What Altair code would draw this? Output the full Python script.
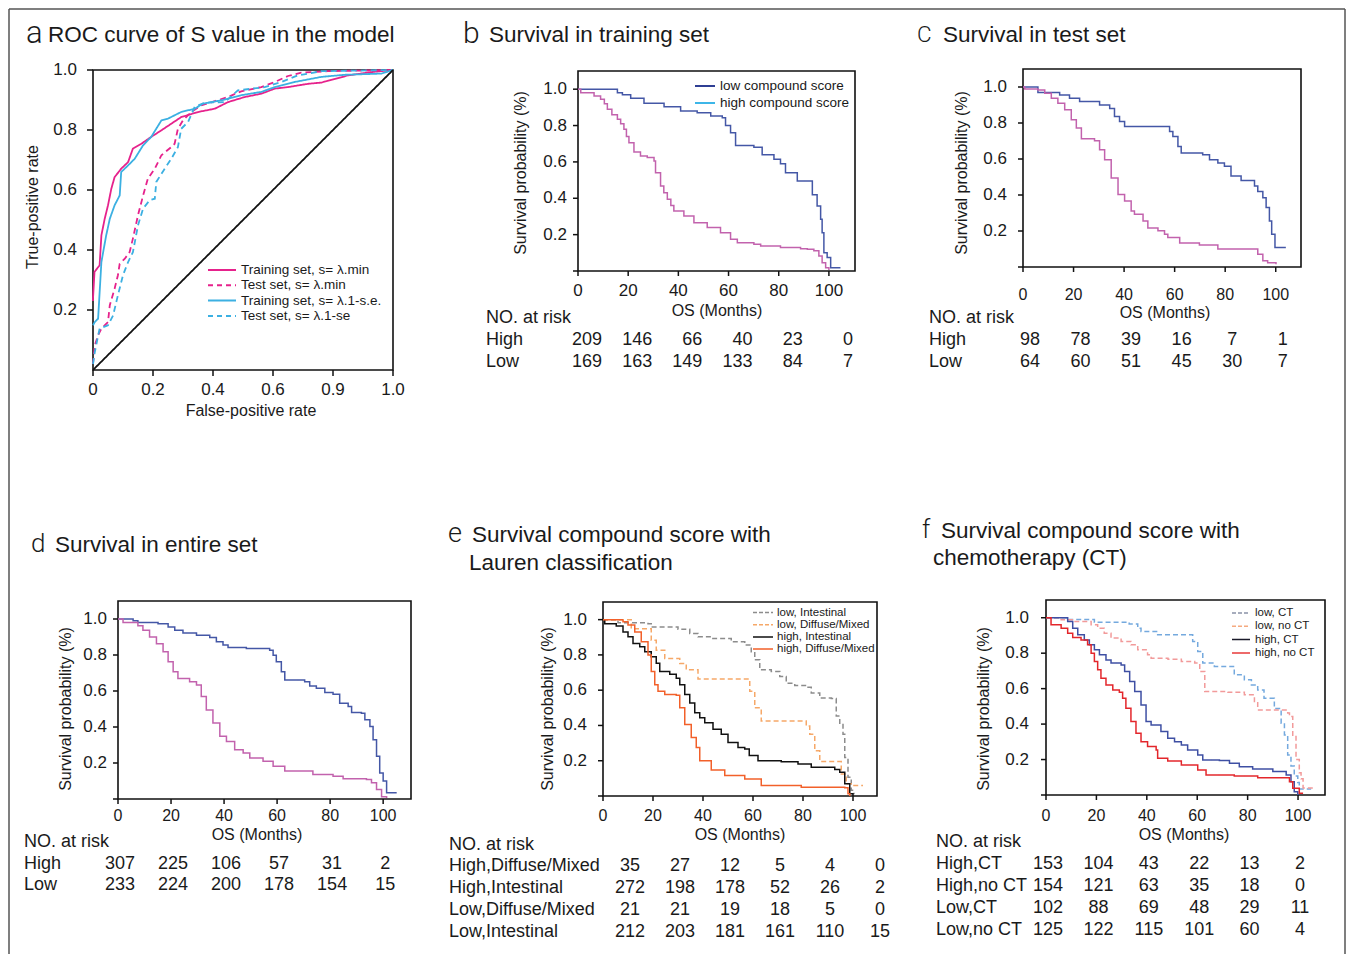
import altair as alt
import pandas as pd

FONT = "Liberation Sans"
LETTER_FONT = "Roboto"
CANVAS_W, CANVAS_H = 1350, 954
INK = "#1a1a1a"

# ---------------------------------------------------------------- data
os_ticks = [0, 20, 40, 60, 80, 100]
os_tick_labels = ["0", "20", "40", "60", "80", "100"]
prob_ticks = [0, 0.2, 0.4, 0.6, 0.8, 1.0]
prob_tick_labels = ["", "0.2", "0.4", "0.6", "0.8", "1.0"]
rate_ticks_x = [0, 0.2, 0.4, 0.6, 0.8, 1.0]
rate_tick_labels_x = ["0", "0.2", "0.4", "0.6", "0.9", "1.0"]
rate_ticks_y = [0.2, 0.4, 0.6, 0.8, 1.0]
rate_tick_labels_y = ["0.2", "0.4", "0.6", "0.8", "1.0"]

# Panel a: ROC curves
roc_labels = ["Training set, s= λ.min", "Test set, s= λ.min",
              "Training set, s= λ.1-s.e.", "Test set, s= λ.1-se"]
roc_train_min_fpr = [0, 0, 0.005, 0.022, 0.028, 0.039, 0.05, 0.061, 0.072, 0.094, 0.117, 0.133,
                     0.161, 0.194, 0.228, 0.261, 0.294, 0.35, 0.406, 0.45, 0.506, 0.561, 0.606,
                     0.65, 0.717, 0.761, 0.85, 0.928, 1.0]
roc_train_min_tpr = [0.23, 0.238, 0.327, 0.349, 0.449, 0.504, 0.549, 0.604, 0.643, 0.671, 0.693,
                     0.738, 0.754, 0.777, 0.799, 0.821, 0.843, 0.86, 0.871, 0.893, 0.91, 0.921,
                     0.938, 0.943, 0.954, 0.958, 0.982, 0.993, 1.0]
roc_test_min_fpr = [0, 0.006, 0.017, 0.028, 0.05, 0.056, 0.072, 0.083, 0.089, 0.106, 0.122, 0.133,
                    0.15, 0.167, 0.183, 0.206, 0.228, 0.261, 0.272, 0.283, 0.3, 0.328, 0.361, 0.406,
                    0.45, 0.494, 0.561, 0.606, 0.65, 0.694, 0.783, 1.0]
roc_test_min_tpr = [0.02, 0.082, 0.116, 0.138, 0.16, 0.216, 0.271, 0.316, 0.354, 0.371, 0.393,
                    0.438, 0.516, 0.582, 0.638, 0.671, 0.716, 0.743, 0.754, 0.804, 0.832, 0.86,
                    0.882, 0.896, 0.91, 0.929, 0.943, 0.96, 0.98, 0.991, 0.996, 1.0]
roc_train_1se_fpr = [0, 0.006, 0.017, 0.028, 0.044, 0.056, 0.072, 0.089, 0.094, 0.117, 0.139,
                     0.167, 0.194, 0.228, 0.25, 0.294, 0.339, 0.367, 0.428, 0.494, 0.561, 0.606,
                     0.672, 0.761, 0.839, 0.961, 1.0]
roc_train_1se_tpr = [0.149, 0.16, 0.171, 0.36, 0.449, 0.504, 0.549, 0.582, 0.66, 0.682, 0.704,
                     0.749, 0.777, 0.832, 0.838, 0.86, 0.871, 0.888, 0.899, 0.916, 0.927, 0.943,
                     0.96, 0.977, 0.984, 0.988, 1.0]
roc_test_1se_fpr = [0, 0.006, 0.022, 0.05, 0.067, 0.083, 0.1, 0.117, 0.133, 0.15, 0.167, 0.189,
                    0.206, 0.211, 0.239, 0.261, 0.283, 0.294, 0.317, 0.339, 0.372, 0.439, 0.483,
                    0.572, 0.628, 0.683, 0.761, 1.0]
roc_test_1se_tpr = [0.02, 0.06, 0.138, 0.149, 0.182, 0.249, 0.316, 0.36, 0.393, 0.482, 0.538,
                    0.566, 0.571, 0.627, 0.671, 0.704, 0.743, 0.804, 0.827, 0.877, 0.891, 0.893,
                    0.932, 0.943, 0.96, 0.982, 0.996, 1.0]
roc_diag_x = [0, 1]
roc_diag_y = [0, 1]

# Panel b: training set
b_low_t = [0, 15.7, 17.7, 21.0, 26.3, 34.3, 40.9, 47.5, 52.9, 57.5, 58.8, 60.8, 62.8, 70.1, 73.4,
           78.1, 80.7, 82.7, 87.4, 93.4, 95.3, 96.7, 97.3, 98.0, 99.3, 100.7, 104.6]
b_low_s = [1.0, 0.98, 0.97, 0.95, 0.922, 0.904, 0.88, 0.87, 0.853, 0.843, 0.80, 0.76, 0.69, 0.68,
           0.64, 0.614, 0.59, 0.54, 0.495, 0.42, 0.357, 0.284, 0.21, 0.10, 0.074, 0.018, 0.018]
b_high_t = [0, 1.1, 6.4, 9.0, 10.5, 11.7, 13.5, 15.7, 17.0, 18.3, 19.3, 20.3, 22.3, 24.9, 27.6,
            30.3, 30.9, 32.9, 34.2, 35.6, 37.0, 38.2, 42.2, 46.2, 51.5, 56.8, 60.8, 63.5, 70.1,
            72.8, 80.7, 88.7, 91.4, 94.0, 96.0, 97.3, 98.7, 100.0]
b_high_s = [1.0, 0.98, 0.962, 0.944, 0.92, 0.89, 0.86, 0.834, 0.81, 0.779, 0.74, 0.706, 0.655,
            0.633, 0.624, 0.605, 0.541, 0.468, 0.43, 0.394, 0.36, 0.33, 0.303, 0.266, 0.239,
            0.211, 0.174, 0.156, 0.147, 0.138, 0.129, 0.123, 0.12, 0.111, 0.083, 0.046, 0.018,
            0.005]
b_risk_rows = ["High", "Low"]
b_risk_high = [209, 146, 66, 40, 23, 0]
b_risk_low = [169, 163, 149, 133, 84, 7]

# Panel c: test set
c_low_t = [0, 5.9, 14.5, 18.4, 22.4, 30.3, 34.3, 36.2, 38.2, 40.2, 58.0, 59.3, 61.3, 62.6, 71.1,
           73.8, 77.1, 79.7, 82.3, 86.3, 91.6, 92.9, 94.9, 96.2, 97.5, 98.4, 99.7, 104.0]
c_low_s = [1.0, 0.97, 0.956, 0.937, 0.92, 0.9, 0.88, 0.836, 0.808, 0.78, 0.753, 0.725, 0.67,
           0.633, 0.624, 0.596, 0.578, 0.56, 0.505, 0.48, 0.45, 0.42, 0.385, 0.33, 0.256, 0.182,
           0.109, 0.109]
c_high_t = [0, 0.7, 5.9, 8.6, 11.2, 13.8, 16.5, 19.1, 21.1, 23.1, 28.3, 30.3, 32.3, 34.9, 37.6,
            40.2, 42.8, 44.1, 47.5, 49.4, 53.4, 56.0, 57.3, 62.0, 69.8, 77.1, 92.9, 94.9, 96.8,
            100.1]
c_high_s = [1.0, 0.989, 0.983, 0.965, 0.937, 0.91, 0.873, 0.818, 0.772, 0.713, 0.702, 0.652,
            0.596, 0.495, 0.403, 0.366, 0.311, 0.293, 0.256, 0.216, 0.201, 0.182, 0.164, 0.133,
            0.122, 0.1, 0.071, 0.035, 0.024, 0.015]
c_risk_rows = ["High", "Low"]
c_risk_high = [98, 78, 39, 16, 7, 1]
c_risk_low = [64, 60, 51, 45, 30, 7]

# Panel d: entire set
d_low_t = [0, 5.7, 7.5, 15.1, 18.9, 21.4, 24.5, 29.6, 34.6, 37.1, 39.6, 41.5, 48.4, 57.2, 58.5,
           59.7, 61.6, 62.9, 70.4, 72.3, 74.8, 78.0, 81.1, 83.6, 86.8, 88.1, 91.8, 93.1, 95.0,
           96.2, 97.5, 98.7, 100.0, 101.3, 105.1]
d_low_s = [1.0, 0.99, 0.981, 0.974, 0.956, 0.937, 0.922, 0.91, 0.897, 0.873, 0.855, 0.841, 0.836,
           0.827, 0.799, 0.762, 0.707, 0.661, 0.652, 0.628, 0.615, 0.591, 0.582, 0.532, 0.514,
           0.48, 0.477, 0.44, 0.403, 0.329, 0.237, 0.145, 0.1, 0.035, 0.035]
d_high_t = [0, 1.9, 7.5, 9.4, 11.9, 14.5, 17.0, 18.9, 20.8, 22.6, 27.0, 29.6, 31.4, 33.3, 35.8,
            38.4, 40.9, 44.0, 47.2, 49.7, 54.7, 58.5, 62.9, 73.5, 81.1, 84.9, 93.7, 95.6, 97.5,
            99.4, 101.3]
d_high_s = [1.0, 0.981, 0.963, 0.937, 0.9, 0.863, 0.818, 0.762, 0.707, 0.67, 0.652, 0.633, 0.569,
            0.495, 0.422, 0.348, 0.32, 0.274, 0.256, 0.228, 0.21, 0.182, 0.155, 0.136, 0.127,
            0.112, 0.109, 0.09, 0.053, 0.012, 0.006]
d_risk_rows = ["High", "Low"]
d_risk_high = [307, 225, 106, 57, 31, 2]
d_risk_low = [233, 224, 200, 178, 154, 15]

# Panel e: Lauren classification
e_labels = ["low, Intestinal", "low, Diffuse/Mixed", "high, Intestinal", "high, Diffuse/Mixed"]
e_low_int_t = [0, 6.0, 18.0, 19.3, 30.0, 34.7, 38.0, 43.3, 51.3, 56.7, 59.3, 60.7, 62.7, 67.3,
               70.7, 73.3, 76.7, 81.3, 83.3, 86.7, 91.3, 93.3, 94.7, 96.0, 96.7, 98.0, 99.3, 100.4]
e_low_int_s = [1.0, 0.983, 0.977, 0.958, 0.945, 0.921, 0.903, 0.893, 0.874, 0.856, 0.818, 0.772,
               0.716, 0.706, 0.678, 0.64, 0.627, 0.616, 0.584, 0.556, 0.553, 0.453, 0.406, 0.35,
               0.219, 0.107, 0.032, 0.01]
e_low_dif_t = [0, 11.3, 19.3, 21.3, 24.7, 30.7, 33.3, 38.0, 58.7, 60.7, 63.3, 81.3, 82.7, 84.7,
               86.7, 95.3, 97.3, 99.3, 104.0]
e_low_dif_s = [1.0, 0.949, 0.883, 0.827, 0.78, 0.752, 0.716, 0.664, 0.594, 0.5, 0.425, 0.397,
               0.35, 0.256, 0.196, 0.125, 0.069, 0.06, 0.06]
e_high_int_t = [0, 0.7, 5.3, 8.0, 10.0, 12.0, 14.7, 16.7, 19.3, 21.3, 22.7, 26.7, 29.3, 30.7,
                32.7, 34.7, 36.7, 38.7, 40.7, 44.0, 47.3, 50.0, 54.0, 56.7, 58.5, 62.0, 71.3,
                78.0, 83.3, 92.7, 94.7, 96.7, 98.7, 100.0]
e_high_int_s = [1.0, 0.977, 0.964, 0.93, 0.903, 0.865, 0.846, 0.818, 0.79, 0.753, 0.706, 0.69,
                0.668, 0.631, 0.575, 0.528, 0.472, 0.444, 0.416, 0.379, 0.35, 0.303, 0.275,
                0.266, 0.23, 0.2, 0.194, 0.181, 0.163, 0.15, 0.135, 0.069, 0.013, 0.0]
e_high_dif_t = [0, 8.0, 10.0, 12.7, 15.3, 18.0, 19.3, 20.7, 22.0, 24.7, 29.3, 30.7, 32.7, 35.3,
                37.3, 38.7, 43.3, 48.7, 56.7, 63.3, 79.3, 96.7, 98.0, 98.7]
e_high_dif_s = [1.0, 0.988, 0.97, 0.93, 0.874, 0.8, 0.706, 0.631, 0.594, 0.575, 0.571, 0.5, 0.406,
                0.331, 0.275, 0.2, 0.148, 0.116, 0.097, 0.06, 0.05, 0.047, 0.013, 0.0]
e_risk_rows = ["High,Diffuse/Mixed", "High,Intestinal", "Low,Diffuse/Mixed", "Low,Intestinal"]
e_risk_high_dif = [35, 27, 12, 5, 4, 0]
e_risk_high_int = [272, 198, 178, 52, 26, 2]
e_risk_low_dif = [21, 21, 19, 18, 5, 0]
e_risk_low_int = [212, 203, 181, 161, 110, 15]

# Panel f: chemotherapy
f_labels = ["low, CT", "low, no CT", "high, CT", "high, no CT"]
f_low_ct_t = [0, 8.6, 19.2, 33.0, 36.4, 37.7, 44.3, 58.2, 60.2, 62.2, 66.8, 74.7, 78.7, 81.5,
              84.0, 86.5, 90.6, 93.3, 94.6, 95.9, 97.2, 98.5, 99.9, 100.5, 105.2]
f_low_ct_s = [1.0, 0.99, 0.975, 0.965, 0.941, 0.923, 0.904, 0.866, 0.81, 0.744, 0.725, 0.678,
              0.65, 0.621, 0.593, 0.546, 0.488, 0.405, 0.339, 0.226, 0.164, 0.107, 0.07, 0.034,
              0.034]
f_low_noct_t = [0, 6.0, 11.2, 17.9, 20.5, 23.1, 25.8, 29.8, 33.7, 36.4, 40.3, 41.7, 48.4, 53.7,
                59.0, 61.0, 63.0, 72.2, 78.7, 82.7, 84.0, 95.9, 96.6, 97.9, 99.2, 100.5, 101.2,
                102.0, 106.7]
f_low_noct_s = [1.0, 0.989, 0.979, 0.96, 0.941, 0.913, 0.885, 0.866, 0.847, 0.819, 0.791, 0.772,
                0.766, 0.753, 0.744, 0.697, 0.584, 0.579, 0.565, 0.527, 0.48, 0.462, 0.443, 0.33,
                0.2, 0.125, 0.091, 0.04, 0.04]
f_high_ct_t = [0, 8.6, 10.6, 12.6, 15.2, 17.2, 19.2, 21.2, 23.8, 25.8, 29.8, 31.2, 33.2, 35.2,
               37.7, 39.7, 41.7, 45.6, 48.3, 51.0, 53.7, 56.2, 60.2, 62.2, 68.8, 72.8, 76.7, 82.0,
               90.0, 95.3, 97.2, 98.5, 99.9]
f_high_ct_s = [1.0, 0.979, 0.941, 0.904, 0.875, 0.847, 0.819, 0.791, 0.762, 0.744, 0.734, 0.697,
               0.64, 0.584, 0.508, 0.414, 0.395, 0.358, 0.32, 0.301, 0.282, 0.254, 0.226, 0.198,
               0.194, 0.179, 0.16, 0.147, 0.132, 0.113, 0.075, 0.019, 0.0]
f_high_noct_t = [0, 2.0, 6.0, 8.6, 10.6, 13.9, 16.5, 17.9, 19.2, 20.5, 21.8, 23.8, 26.5, 29.1,
                 30.4, 31.7, 33.7, 35.7, 37.7, 40.3, 43.7, 44.3, 48.3, 53.7, 60.2, 63.5, 74.7,
                 84.0, 96.6, 97.9, 100.5, 102.0]
f_high_noct_s = [1.0, 0.96, 0.941, 0.913, 0.889, 0.875, 0.847, 0.8, 0.753, 0.706, 0.659, 0.621,
                 0.593, 0.58, 0.546, 0.49, 0.414, 0.348, 0.301, 0.273, 0.254, 0.207, 0.192, 0.169,
                 0.141, 0.113, 0.107, 0.098, 0.075, 0.038, 0.01, 0.01]
f_risk_rows = ["High,CT", "High,no CT", "Low,CT", "Low,no CT"]
f_risk_high_ct = [153, 104, 43, 22, 13, 2]
f_risk_high_noct = [154, 121, 63, 35, 18, 0]
f_risk_low_ct = [102, 88, 69, 48, 29, 11]
f_risk_low_noct = [125, 122, 115, 101, 60, 4]

# ---------------------------------------------------------------- styles / layout
BLUE = "#4457a6"
MAGENTA = "#c262ad"
ROC_PINK = "#e6228c"
ROC_CYAN = "#3cb0e2"
SOLID = [1, 0]

# plot rectangles (pixels), tick length, label offsets/sizes, axis-title centres
PA = dict(left=93, right=393, top=70, bottom=370, xmax=1.0, ymax=1.0, tick=6, xlab_dy=20,
          xlab_fs=17, ylab_dx=-16, xtitle=(251, 411), ytitle=(33, 207))
PB = dict(left=578, right=855, top=71, bottom=271, xmax=110.4, ymax=1.1, tick=5, xlab_dy=20,
          xlab_fs=17, ylab_dx=-11, xtitle=(717, 311), ytitle=(521, 173))
PC = dict(left=1023, right=1301, top=69, bottom=267, xmax=110.0, ymax=1.1, tick=5, xlab_dy=28,
          xlab_fs=16, ylab_dx=-16, xtitle=(1165, 313), ytitle=(962, 173))
PD = dict(left=118, right=411, top=601, bottom=799, xmax=110.5, ymax=1.1, tick=5, xlab_dy=17,
          xlab_fs=16, ylab_dx=-11, xtitle=(257, 835), ytitle=(66, 709))
PE = dict(left=603, right=877, top=602, bottom=796, xmax=109.6, ymax=1.1, tick=5, xlab_dy=20,
          xlab_fs=16, ylab_dx=-16, xtitle=(740, 835), ytitle=(548, 709))
PF = dict(left=1046, right=1325, top=600, bottom=795, xmax=110.7, ymax=1.1, tick=5, xlab_dy=21,
          xlab_fs=16, ylab_dx=-17, xtitle=(1184, 835), ytitle=(984, 709))


def curves_df(names, xs_list, ys_list):
    rows = []
    for name, xs, ys in zip(names, xs_list, ys_list):
        for i, (a, b) in enumerate(zip(xs, ys)):
            rows.append({"x": a, "y": b, "series": name, "i": i})
    return pd.DataFrame(rows)


def panel_scales(P):
    xs = alt.Scale(domain=[0, P["xmax"]], range=[P["left"], P["right"]], nice=False, zero=False)
    ys = alt.Scale(domain=[0, P["ymax"]], range=[P["bottom"], P["top"]], nice=False, zero=False)
    return xs, ys


def text_at(txt, x, y, size, font=FONT, weight="normal", angle=0, align="left",
            baseline="alphabetic"):
    return alt.Chart(pd.DataFrame({"t": [txt]})).mark_text(
        font=font, fontSize=size, fontWeight=weight, align=align, baseline=baseline,
        angle=angle, color=INK).encode(x=alt.value(x), y=alt.value(y), text="t:N")


def make_panel(df, names, colors, dashes, P, xvals, xlabs, yvals, ylabs, xtitle, ytitle,
               interp, sw):
    xs, ys = panel_scales(P)
    X = lambda f: alt.X(f, scale=xs, axis=None)
    Y = lambda f: alt.Y(f, scale=ys, axis=None)

    frame_df = pd.DataFrame({"x0": [0], "x1": [P["xmax"]], "y0": [0], "y1": [P["ymax"]]})
    frame = alt.Chart(frame_df).mark_rect(fillOpacity=0, stroke="#111", strokeWidth=1.6).encode(
        x=X("x0:Q"), x2="x1:Q", y=Y("y0:Q"), y2="y1:Q")

    xt = pd.DataFrame({"v": xvals, "lab": xlabs, "base": [0.0] * len(xvals)})
    yt = pd.DataFrame({"v": yvals, "lab": ylabs, "base": [0.0] * len(yvals)})
    x_ticks = alt.Chart(xt).mark_rule(color="#111", strokeWidth=1.5, y2Offset=P["tick"]).encode(
        x=X("v:Q"), y=Y("base:Q"), y2="base:Q")
    x_labs = alt.Chart(xt).mark_text(font=FONT, fontSize=P["xlab_fs"], align="center",
                                     baseline="middle", dy=P["xlab_dy"], color=INK).encode(
        x=X("v:Q"), y=Y("base:Q"), text="lab:N")
    y_ticks = alt.Chart(yt).mark_rule(color="#111", strokeWidth=1.5, x2Offset=-P["tick"]).encode(
        y=Y("v:Q"), x=X("base:Q"), x2="base:Q")
    y_labs = alt.Chart(yt).mark_text(font=FONT, fontSize=17, align="right", baseline="middle",
                                     dx=P["ylab_dx"], color=INK).encode(
        y=Y("v:Q"), x=X("base:Q"), text="lab:N")

    lines = alt.Chart(df).mark_line(interpolate=interp, strokeWidth=sw).encode(
        x=X("x:Q"), y=Y("y:Q"),
        color=alt.Color("series:N", scale=alt.Scale(domain=names, range=colors), legend=None),
        strokeDash=alt.StrokeDash("series:N", scale=alt.Scale(domain=names, range=dashes),
                                  legend=None),
        order=alt.Order("i:Q"))

    xt_title = text_at(xtitle, P["xtitle"][0], P["xtitle"][1], 16, align="center",
                       baseline="middle")
    yt_title = text_at(ytitle, P["ytitle"][0], P["ytitle"][1], 16, align="center",
                       baseline="middle", angle=270)
    return [alt.layer(frame, x_ticks, x_labs, y_ticks, y_labs, lines), xt_title, yt_title]


def risk_table(rows, counts, P, label_x, y_first, y_step, align, dx):
    xs, _ = panel_scales(P)
    domain = ["NO. at risk"] + rows
    ysc = alt.Scale(type="point", domain=domain, padding=0,
                    range=[y_first, y_first + y_step * (len(domain) - 1)])
    recs = []
    for r, vals in zip(rows, counts):
        for t, n in zip(os_ticks, vals):
            recs.append({"row": r, "t": t, "n": str(n)})
    nums = alt.Chart(pd.DataFrame(recs)).mark_text(
        font=FONT, fontSize=18, align=align, dx=dx, baseline="middle", color=INK).encode(
        x=alt.X("t:Q", scale=xs, axis=None),
        y=alt.Y("row:N", scale=ysc, axis=None),
        text="n:N")
    labels = alt.Chart(pd.DataFrame({"row": domain})).mark_text(
        font=FONT, fontSize=18, align="left", baseline="middle", color=INK).encode(
        x=alt.value(label_x),
        y=alt.Y("row:N", scale=ysc, axis=None),
        text="row:N")
    return alt.layer(labels, nums)


def legend_block(labels, colors, dashes, x1, x2, tx, y_first, y_step, fs, sw):
    df = pd.DataFrame({"label": labels})
    ysc = alt.Scale(type="point", domain=labels, padding=0,
                    range=[y_first, y_first + y_step * (len(labels) - 1)])
    rule = alt.Chart(df).mark_rule(strokeWidth=sw).encode(
        x=alt.value(x1), x2=alt.value(x2),
        y=alt.Y("label:N", scale=ysc, axis=None),
        color=alt.Color("label:N", scale=alt.Scale(domain=labels, range=colors), legend=None),
        strokeDash=alt.StrokeDash("label:N", scale=alt.Scale(domain=labels, range=dashes),
                                  legend=None))
    text = alt.Chart(df).mark_text(font=FONT, fontSize=fs, align="left", baseline="middle",
                                   color=INK).encode(
        x=alt.value(tx), y=alt.Y("label:N", scale=ysc, axis=None), text="label:N")
    return alt.layer(rule, text)


layers = []

# ---- outer frame
frame_rules = [((9, 9), (1345, 9)), ((9, 9), (9, 954)), ((1345, 9), (1345, 954))]
for (ax, ay), (bx, by) in frame_rules:
    layers.append(alt.Chart(pd.DataFrame({"k": [0]})).mark_rule(color="#555", strokeWidth=1.5)
                  .encode(x=alt.value(ax), y=alt.value(ay), x2=alt.value(bx), y2=alt.value(by)))

# ---- panel a
roc_names = roc_labels + ["reference"]
roc_df = curves_df(roc_names,
                   [roc_train_min_fpr, roc_test_min_fpr, roc_train_1se_fpr, roc_test_1se_fpr,
                    roc_diag_x],
                   [roc_train_min_tpr, roc_test_min_tpr, roc_train_1se_tpr, roc_test_1se_tpr,
                    roc_diag_y])
layers += make_panel(roc_df, roc_names, [ROC_PINK, ROC_PINK, ROC_CYAN, ROC_CYAN, "#111"],
                     [SOLID, [6, 4], SOLID, [6, 4], SOLID], PA, rate_ticks_x, rate_tick_labels_x,
                     rate_ticks_y, rate_tick_labels_y, "False-positive rate",
                     "True-positive rate", "linear", 1.8)
layers.append(legend_block(roc_labels, [ROC_PINK, ROC_PINK, ROC_CYAN, ROC_CYAN],
                           [SOLID, [5, 4], SOLID, [5, 4]], 208, 236, 241, 270, 15.3, 13.5, 2))

# ---- panel b
km_names = ["low", "high"]
KM_T = "Survival probability  (%)"
b_df = curves_df(km_names, [b_low_t, b_high_t], [b_low_s, b_high_s])
layers += make_panel(b_df, km_names, [BLUE, MAGENTA], [SOLID, SOLID], PB, os_ticks,
                     os_tick_labels, prob_ticks, prob_tick_labels, "OS (Months)", KM_T,
                     "step-after", 1.5)
layers.append(legend_block(["low compound score", "high compound score"], ["#2f3f94", "#3db6e8"],
                           [SOLID, SOLID], 695, 715, 720, 86, 17, 13.5, 2))
layers.append(risk_table(b_risk_rows, [b_risk_high, b_risk_low], PB, 486, 318, 22, "right", 24))

# ---- panel c
c_df = curves_df(km_names, [c_low_t, c_high_t], [c_low_s, c_high_s])
layers += make_panel(c_df, km_names, [BLUE, MAGENTA], [SOLID, SOLID], PC, os_ticks,
                     os_tick_labels, prob_ticks, prob_tick_labels, "OS (Months)", KM_T,
                     "step-after", 1.5)
layers.append(risk_table(c_risk_rows, [c_risk_high, c_risk_low], PC, 929, 318, 22, "center", 7))

# ---- panel d
d_df = curves_df(km_names, [d_low_t, d_high_t], [d_low_s, d_high_s])
layers += make_panel(d_df, km_names, [BLUE, MAGENTA], [SOLID, SOLID], PD, os_ticks,
                     os_tick_labels, prob_ticks, prob_tick_labels, "OS (Months)", KM_T,
                     "step-after", 1.5)
layers.append(risk_table(d_risk_rows, [d_risk_high, d_risk_low], PD, 24, 842, 21.5, "center", 2))

# ---- panel e
e_df = curves_df(e_labels, [e_low_int_t, e_low_dif_t, e_high_int_t, e_high_dif_t],
                 [e_low_int_s, e_low_dif_s, e_high_int_s, e_high_dif_s])
e_colors = ["#8c8c8c", "#f6a868", "#111111", "#f2602a"]
e_dash = [[5, 3], [5, 3], SOLID, SOLID]
layers += make_panel(e_df, e_labels, e_colors, e_dash, PE, os_ticks, os_tick_labels, prob_ticks,
                     prob_tick_labels, "OS (Months)", KM_T, "step-after", 1.5)
layers.append(legend_block(e_labels, e_colors, [[4, 2], [4, 2], SOLID, SOLID], 753, 773, 777,
                           612.5, 12.2, 11.5, 1.5))
layers.append(risk_table(e_risk_rows, [e_risk_high_dif, e_risk_high_int, e_risk_low_dif,
                                       e_risk_low_int], PE, 449, 844.5, 21.9, "center", 27))

# ---- panel f
f_df = curves_df(f_labels, [f_low_ct_t, f_low_noct_t, f_high_ct_t, f_high_noct_t],
                 [f_low_ct_s, f_low_noct_s, f_high_ct_s, f_high_noct_s])
f_colors = ["#74a9de", "#f29a9a", "#3e4fa3", "#e3262b"]
f_dash = [[5, 3], [5, 3], SOLID, SOLID]
layers += make_panel(f_df, f_labels, f_colors, f_dash, PF, os_ticks, os_tick_labels, prob_ticks,
                     prob_tick_labels, "OS (Months)", KM_T, "step-after", 1.5)
layers.append(legend_block(f_labels, ["#8a93a8", "#f5aa80", "#1a1a2a", "#e83a3a"],
                           [[4, 2], [4, 2], SOLID, SOLID], 1232, 1250, 1255, 613, 13.3, 11.5, 1.5))
layers.append(risk_table(f_risk_rows, [f_risk_high_ct, f_risk_high_noct, f_risk_low_ct,
                                       f_risk_low_noct], PF, 936, 842, 22, "center", 2))

# ---- panel titles
titles = [
    ("a", 26, 43, 31, ["ROC curve of S value in the model"], [(48, 42)]),
    ("b", 463, 43, 30, ["Survival in training set"], [(489, 42)]),
    ("C", 917, 42, 22.5, ["Survival in test set"], [(943, 42)]),
    ("d", 31, 552, 26, ["Survival in entire set"], [(55, 552)]),
    ("e", 448, 542, 27, ["Survival compound score with", "Lauren classification"],
     [(472, 542), (469, 570)]),
    ("f", 922, 538, 25, ["Survival compound score with", "chemotherapy (CT)"],
     [(941, 538), (933, 565)]),
]
for letter, lx, ly, lsize, lines_txt, pos in titles:
    layers.append(text_at(letter, lx, ly, lsize, font=LETTER_FONT, weight=300))
    for txt, (tx, ty) in zip(lines_txt, pos):
        layers.append(text_at(txt, tx, ty, 22.5))

chart = alt.layer(*layers).resolve_scale(
    x="independent", y="independent", color="independent", strokeDash="independent"
).properties(
    width=CANVAS_W, height=CANVAS_H, padding=0, background="white",
    autosize=alt.AutoSizeParams(type="none")
).configure_view(
    strokeOpacity=0
)

chart.save("out.html", embed_options={"renderer": "svg", "actions": False})
